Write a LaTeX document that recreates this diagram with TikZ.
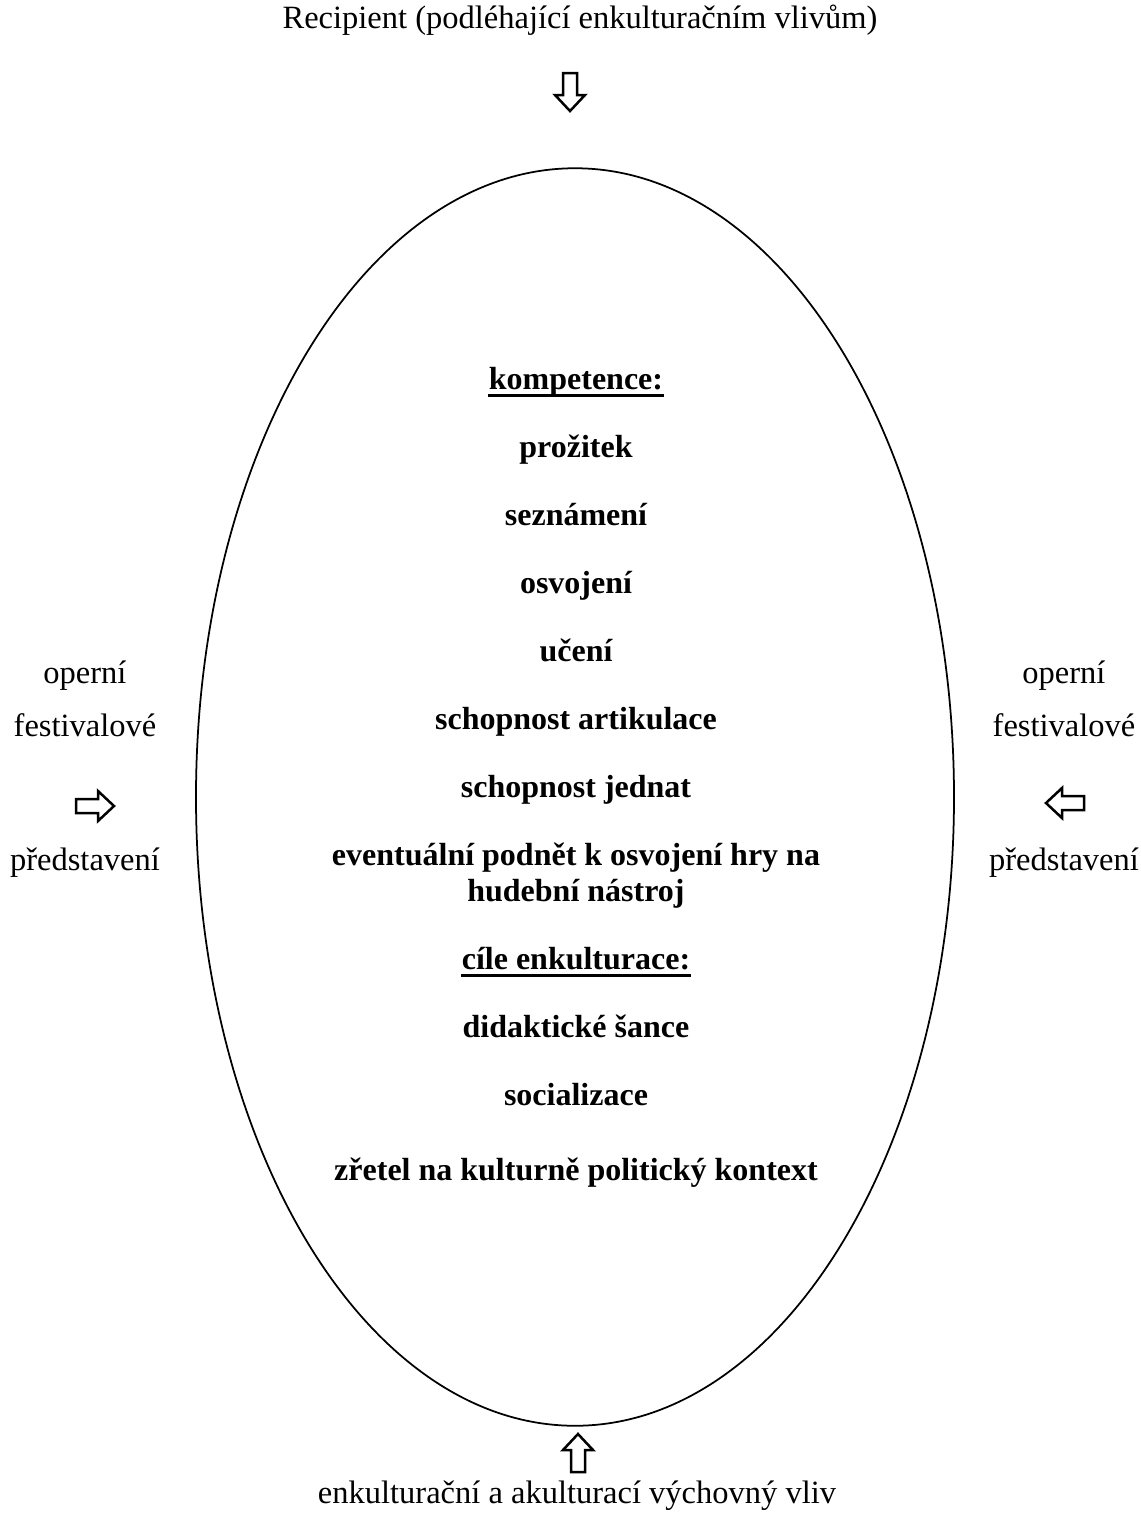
\documentclass[tikz,border=0pt]{standalone}
\usepackage{fontspec}
\setmainfont{Liberation Serif}
\usepackage{tikz}
\usetikzlibrary{shapes.geometric}

\begin{document}
\begin{tikzpicture}[x=0.4pt,y=-0.4pt,
  text node/.style={anchor=base,inner sep=0pt,font=\fontsize{13}{15}\selectfont},
  main node/.style={anchor=base,inner sep=0pt,font=\fontsize{12.8}{15}\selectfont\bfseries},
  under line/.style={line width=1.1pt},
  hollow arrow/.pic={\draw[line width=1pt,line join=miter]
    (-19,-7) -- (3,-7) -- (3,-15) -- (19,0) -- (3,15) -- (3,7) -- (-19,7) -- cycle;}]
  \useasboundingbox (0,0) rectangle (1141,1515);

  \node[draw,ellipse,line width=0.7pt,minimum width=303.2pt,minimum height=503pt] (oval) at (575,797) {};

  \node[text node] (recipient) at (580,28) {Recipient (podléhající enkulturačním vlivům)};
  \pic[rotate=-90] at (570,92) {hollow arrow};

  \node[main node] (kompetence) at (576,389) {kompetence:};
  \draw[under line] ([yshift=-2.6pt]kompetence.base west) -- ([yshift=-2.6pt]kompetence.base east);
  \node[main node] (prozitek) at (576,457) {prožitek};
  \node[main node] (seznameni) at (576,525) {seznámení};
  \node[main node] (osvojeni) at (576,593) {osvojení};
  \node[main node] (uceni) at (576,661) {učení};
  \node[main node] (artikulace) at (576,729) {schopnost artikulace};
  \node[main node] (jednat) at (576,797) {schopnost jednat};
  \node[main node] (podnet) at (576,865) {eventuální podnět k osvojení hry na};
  \node[main node] (nastroj) at (576,901) {hudební nástroj};
  \node[main node] (cile) at (576,969) {cíle enkulturace:};
  \draw[under line] ([yshift=-2.6pt]cile.base west) -- ([yshift=-2.6pt]cile.base east);
  \node[main node] (sance) at (576,1037) {didaktické šance};
  \node[main node] (socializace) at (576,1105) {socializace};
  \node[main node] (zretel) at (576,1180) {zřetel na kulturně politický kontext};

  \node[text node] (operniL) at (85,683) {operní};
  \node[text node] (festivalL) at (85,736) {festivalové};
  \pic at (95,806) {hollow arrow};
  \node[text node] (predstaveniL) at (85,870) {představení};

  \node[text node] (operniR) at (1064,683) {operní};
  \node[text node] (festivalR) at (1064,736) {festivalové};
  \pic[rotate=180] at (1065,803) {hollow arrow};
  \node[text node] (predstaveniR) at (1064,870) {představení};

  \pic[rotate=90] at (578,1453) {hollow arrow};
  \node[text node] (vliv) at (577,1503) {enkulturační a akulturací výchovný vliv};
\end{tikzpicture}
\end{document}
